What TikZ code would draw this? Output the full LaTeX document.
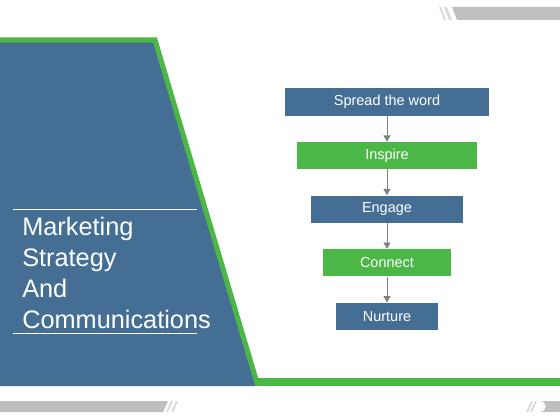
\documentclass[tikz,border=0pt]{standalone}
\usepackage{fontspec}
\setmainfont{Liberation Sans}
\usepackage{tikz}
\usetikzlibrary{positioning}
\usetikzlibrary{arrows.meta}

\definecolor{slateBlue}{HTML}{446E94}
\definecolor{leafGreen}{HTML}{4BB747}
\definecolor{barGray}{HTML}{BFBFBF}
\definecolor{stripeGray}{HTML}{D9D9D9}
\definecolor{arrowGray}{HTML}{808080}

\tikzset{
	bluestep/.style={fill=slateBlue, text=white, inner sep=0pt,
		minimum height=0.68cm, font=\fontsize{10.3}{12}\selectfont},
	greenstep/.style={bluestep, fill=leafGreen},
	flow/.style={draw=arrowGray, line width=0.6pt,
		-{Triangle[length=4.5pt, width=5pt]}}
}

\begin{document}
\begin{tikzpicture}[x=0.025cm, y=-0.025cm]

\useasboundingbox (0,0) rectangle (560,420);

% --- background panel
\fill[slateBlue] (0,42) -- (155,42) -- (257,386) -- (0,386) -- cycle;
\draw[leafGreen, line width=3.6pt, line join=miter] (0,40) -- (155,40) -- (257,383);
\fill[leafGreen] (255,378) rectangle (560,386);

% --- gray bars
\fill[barGray] (452,7) -- (560,7) -- (560,20) -- (457,20) -- cycle;
\fill[stripeGray] (444,7) -- (447,7) -- (452,20) -- (449,20) -- cycle;
\fill[stripeGray] (439,7) -- (441,7) -- (446,20) -- (444,20) -- cycle;

\fill[barGray] (0,401) -- (168,401) -- (163,412) -- (0,412) -- cycle;
\fill[stripeGray] (171,401) -- (173,401) -- (168,412) -- (166,412) -- cycle;
\fill[stripeGray] (176,401) -- (178,401) -- (173,412) -- (171,412) -- cycle;

\fill[barGray] (540,401) rectangle (560,412);
\fill[white] (540,406.5) circle[radius=0.14cm];
\fill[stripeGray] (531,401) -- (533,401) -- (528,412) -- (526,412) -- cycle;
\fill[stripeGray] (535,401) -- (537,401) -- (532,412) -- (530,412) -- cycle;

% --- title
\draw[white, line width=0.7pt] (13,209) -- (197,209);
\draw[white, line width=0.7pt] (13,333) -- (197,333);
\node[
	anchor=north west,
	inner sep=0pt,
	align=left,
	text=white,
	font=\fontsize{18}{22}\selectfont
] (title) at (22,217) {Marketing\\Strategy\\And\\Communications};

% --- steps
\node[
	bluestep,
	minimum width=5.1cm
] (spread) at (387,102) {Spread the word};

\node[
	greenstep,
	minimum width=4.475cm,
	below=0.645cm of spread
] (inspire) {Inspire};

\node[
	bluestep,
	minimum width=3.8cm,
	below=0.645cm of inspire
] (engage) {Engage};

\node[
	greenstep,
	minimum width=3.2cm,
	below=0.645cm of engage
] (connect) {Connect};

\node[
	bluestep,
	minimum width=2.55cm,
	below=0.645cm of connect
] (nurture) {Nurture};

% ---

\draw[flow] (spread.south) -- (inspire.north);
\draw[flow] (inspire.south) -- (engage.north);
\draw[flow] (engage.south) -- (connect.north);
\draw[flow] (connect.south) -- (nurture.north);

\end{tikzpicture}
\end{document}
